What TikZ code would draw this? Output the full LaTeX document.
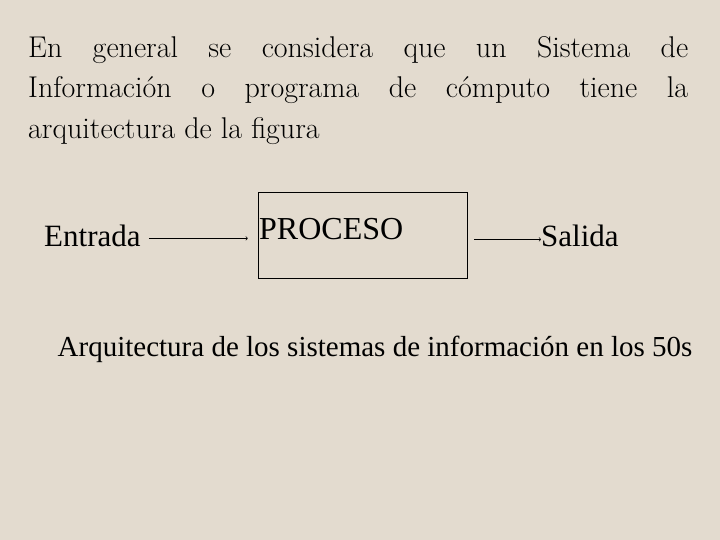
\documentclass[tikz,border=0pt]{standalone}
\usepackage{fontspec}
\usepackage{tikz}
\usetikzlibrary{positioning}
\newfontfamily\fuentetimes{Liberation Serif}
\definecolor{fondo}{rgb}{0.89,0.86,0.81}

\begin{document}
\begin{tikzpicture}[x=1pt,y=-1pt,
  etiqueta/.style={font=\fuentetimes\fontsize{31}{37}\selectfont, inner sep=0pt},
  flecha/.style={->, semithick}]

  % Fondo (720x540)
  \fill[fondo] (0,0) rectangle (720,540);
  \useasboundingbox (0,0) rectangle (720,540);

  % Parrafo de arriba
  \node[anchor=north west, text width=660pt, align=justify, inner sep=0pt,
        font=\fontsize{30}{40.5}\selectfont] (parrafo) at (28,36)
    {En general se considera que un Sistema de\linebreak
     Información o programa de cómputo tiene la\linebreak
     arquitectura de la figura};

  % Caja del proceso
  \node[draw, thin, minimum width=209pt, minimum height=86pt, inner sep=0pt] (caja) at (362.5,235) {};
  \node[etiqueta, anchor=base west, font=\fuentetimes\fontsize{32}{38}\selectfont] (proceso) at (259,240) {PROCESO};

  % Entrada y salida
  \node[etiqueta, anchor=base west] (entrada) at (44,246) {Entrada};
  \node[etiqueta, anchor=base west] (salida) at (541,246) {Salida};

  % Flechas
  \draw[flecha, shorten <=8pt, shorten >=10pt] ([yshift=-3pt]entrada.east) -- ([yshift=-3pt]entrada.east -| caja.west);
  \draw[flecha, shorten <=7pt] ([yshift=-4pt]caja.east |- salida.west) -- ([yshift=-4pt]salida.west);

  % Pie de figura
  \node[font=\fuentetimes\fontsize{29}{35}\selectfont, inner sep=0pt, anchor=base] (pie) at (375,356)
    {Arquitectura de los sistemas de información en los 50s};

\end{tikzpicture}
\end{document}
